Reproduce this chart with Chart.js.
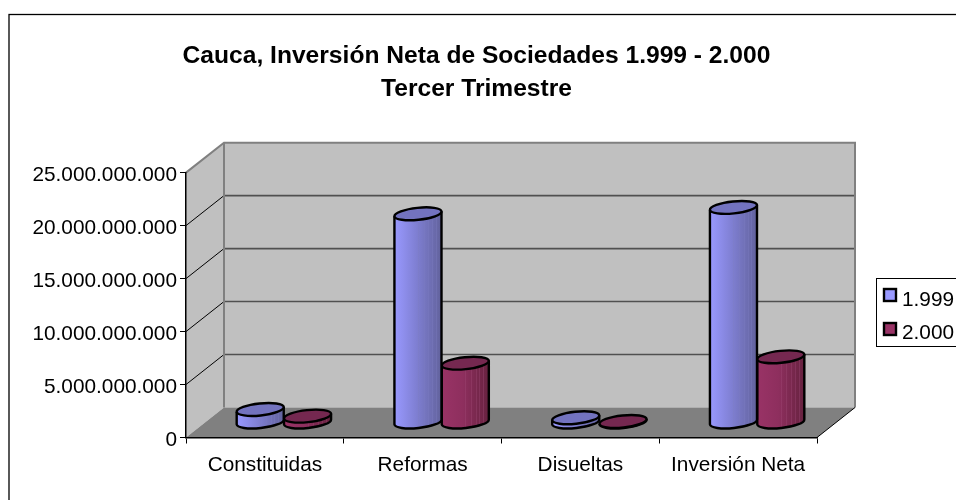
<!DOCTYPE html>
<html><head><meta charset="utf-8">
<script src="https://cdn.jsdelivr.net/npm/chart.js@4"></script>
<style>html,body{margin:0;padding:0;background:#fff}#w{width:956px;height:500px;position:relative}</style>
</head><body><div id="w"><canvas id="c" width="956" height="500"></canvas></div>
<script>
const categories = ['Constituidas','Reformas','Disueltas','Inversión Neta'];
const seriesNames = ['1.999','2.000'];
const values1999 = [1230000000,19700000000,450000000,20300000000];
const values2000 = [600000000,5600000000,100000000,6200000000];
const titleLines = ['Cauca, Inversión Neta de Sociedades 1.999 - 2.000','Tercer Trimestre'];
const FONT = '"Liberation Sans", Arial, sans-serif';
const DEPTH_X = 38, DEPTH_Y = 30;
const looks = [
  {a:'#9999ff',m:'#8080d4',b:'#62629c',stripe:'#7f7fc4',top:'#7373bf'},
  {a:'#993366',m:'#8e2f5e',b:'#66223f',stripe:'#a04a78',top:'#752850'}
];
function cylinder(ctx, cx, topY, baseY, w, look){
  const rx = w/2, ry = 6, rot = -6*Math.PI/180;
  const dx = rx*Math.cos(rot), dy = rx*Math.sin(rot);
  const g = ctx.createLinearGradient(cx-rx,0,cx+rx,0);
  g.addColorStop(0,look.a); g.addColorStop(0.45,look.m); g.addColorStop(1,look.b);
  ctx.beginPath();
  ctx.moveTo(cx-dx,topY-dy);
  ctx.lineTo(cx-dx,baseY-dy);
  ctx.ellipse(cx,baseY,rx,ry,rot,Math.PI,0,true);
  ctx.lineTo(cx+dx,topY+dy);
  ctx.ellipse(cx,topY,rx,ry,rot,0,Math.PI,false);
  ctx.closePath();
  ctx.fillStyle=g; ctx.fill();
  ctx.save();ctx.clip();
  ctx.globalAlpha=0.35;ctx.strokeStyle=look.stripe;ctx.lineWidth=1;
  for(const f of [0.5,0.62,0.72,0.8,0.88]){
    const sx=Math.round(cx-rx+f*w)+0.5;
    ctx.beginPath();ctx.moveTo(sx,topY-10);ctx.lineTo(sx,baseY+10);ctx.stroke();
  }
  ctx.restore();
  ctx.beginPath();
  ctx.moveTo(cx-dx,topY-dy);
  ctx.lineTo(cx-dx,baseY-dy);
  ctx.ellipse(cx,baseY,rx,ry,rot,Math.PI,0,true);
  ctx.lineTo(cx+dx,topY+dy);
  ctx.lineWidth=2.4; ctx.strokeStyle='#000'; ctx.stroke();
  ctx.beginPath();
  ctx.ellipse(cx,topY,rx,ry,rot,0,Math.PI*2);
  ctx.fillStyle=look.top; ctx.fill(); ctx.stroke();
}
const scene = {
  id:'scene',
  beforeDraw(chart){
    const {ctx,scales:{x,y}} = chart;
    const L=x.left,R=x.right,B=y.bottom,T=y.top;
    ctx.save();
    ctx.fillStyle='#fff'; ctx.fillRect(0,0,956,500);
    ctx.strokeStyle='#000'; ctx.lineWidth=1.3;
    ctx.strokeRect(9,14.5,960,500);
    ctx.fillStyle='#c0c0c0';
    ctx.beginPath();ctx.moveTo(L,B);ctx.lineTo(L,T);ctx.lineTo(L+DEPTH_X,T-DEPTH_Y);ctx.lineTo(R+DEPTH_X,T-DEPTH_Y);ctx.lineTo(R+DEPTH_X,B-DEPTH_Y);ctx.lineTo(L+DEPTH_X,B-DEPTH_Y);ctx.closePath();ctx.fill();
    ctx.fillStyle='#808080';
    ctx.beginPath();ctx.moveTo(L,B);ctx.lineTo(L+DEPTH_X,B-DEPTH_Y);ctx.lineTo(R+DEPTH_X,B-DEPTH_Y);ctx.lineTo(R,B);ctx.closePath();ctx.fill();
    y.ticks.forEach((t,i)=>{
      if(t.value===0||t.value===y.max) return;
      const py=y.getPixelForTick(i);
      ctx.strokeStyle='#000';ctx.lineWidth=1;
      ctx.beginPath();ctx.moveTo(L,py);ctx.lineTo(L+DEPTH_X,py-DEPTH_Y);ctx.stroke();
      ctx.strokeStyle='#505050';ctx.lineWidth=1.6;
      ctx.beginPath();ctx.moveTo(L+DEPTH_X,py-DEPTH_Y);ctx.lineTo(R+DEPTH_X,py-DEPTH_Y);ctx.stroke();
    });
    ctx.strokeStyle='#808080';ctx.lineWidth=2;
    ctx.beginPath();ctx.moveTo(L,T);ctx.lineTo(L+DEPTH_X,T-DEPTH_Y);ctx.lineTo(R+DEPTH_X,T-DEPTH_Y);ctx.lineTo(R+DEPTH_X,B-DEPTH_Y);
    ctx.moveTo(L+DEPTH_X,T-DEPTH_Y);ctx.lineTo(L+DEPTH_X,B-DEPTH_Y);ctx.stroke();
    ctx.strokeStyle='#000';ctx.lineWidth=1;
    ctx.beginPath();ctx.moveTo(R,B);ctx.lineTo(R+DEPTH_X,B-DEPTH_Y);ctx.stroke();
    ctx.restore();
  },
  beforeDatasetDraw(chart,args){
    const {ctx}=chart, look=looks[args.index];
    ctx.save();
    args.meta.data.forEach(el=>{
      const p=el.getProps(['x','y','base','width'],true);
      cylinder(ctx,p.x+DEPTH_X/2,p.y-DEPTH_Y/2,p.base-DEPTH_Y/2,p.width,look);
    });
    ctx.restore();
    return false;
  },
  afterDraw(chart){
    const {ctx}=chart;
    ctx.save();
    ctx.fillStyle='#fff';ctx.fillRect(876.5,278.5,90,68);
    ctx.strokeStyle='#000';ctx.lineWidth=1;ctx.strokeRect(876.5,278.5,90,68);
    ctx.font='20.8px '+FONT;ctx.textBaseline='middle';ctx.textAlign='left';
    chart.data.datasets.forEach((d,i)=>{
      const yc=295+i*34;
      ctx.fillStyle=d.backgroundColor;ctx.fillRect(884,yc-6,12,12);
      ctx.lineWidth=2.4;ctx.strokeStyle='#000';ctx.strokeRect(884,yc-6,12,12);
      ctx.fillStyle='#000';ctx.fillText(d.label,902,300+i*33);
    });
    ctx.restore();
  }
};
new Chart(document.getElementById('c'),{
  type:'bar',
  data:{labels:categories,datasets:[
    {label:seriesNames[0],data:values1999,backgroundColor:looks[0].a,borderColor:'#000',categoryPercentage:0.6,barPercentage:1},
    {label:seriesNames[1],data:values2000,backgroundColor:looks[1].a,borderColor:'#000',categoryPercentage:0.6,barPercentage:1}
  ]},
  options:{
    responsive:false,animation:false,
    layout:{padding:{left:0,top:0,bottom:0,right:3}},
    plugins:{
      legend:{display:false},
      tooltip:{enabled:false},
      title:{display:true,text:titleLines,color:'#000',font:{family:FONT,size:24.6,weight:'bold',lineHeight:1.33},padding:{top:40,bottom:67.2}}
    },
    scales:{
      x:{grid:{display:true,drawOnChartArea:false,drawTicks:true,tickLength:6,color:'#000',offset:true},
         border:{display:true,color:'#000',width:1.5},
         ticks:{color:'#000',font:{family:FONT,size:20.8},padding:9,maxRotation:0,autoSkip:false},
         afterFit(s){s.height=62.5;}},
      y:{min:0,max:25000000000,
         grid:{display:true,drawOnChartArea:false,drawTicks:true,tickLength:6,color:'#000'},
         border:{display:true,color:'#000',width:1.5},
         ticks:{stepSize:5000000000,color:'#000',font:{family:FONT,size:20.8},padding:3,labelOffset:3,
           callback:v=>String(v).replace(/\B(?=(\d{3})+$)/g,'.')},
         afterFit(s){s.width=186;}},
      spare:{position:'right',min:0,max:1,display:true,grid:{display:false},border:{display:false},ticks:{display:false},afterFit(s){s.width=136;}}
    }
  },
  plugins:[scene]
});
</script></body></html>
